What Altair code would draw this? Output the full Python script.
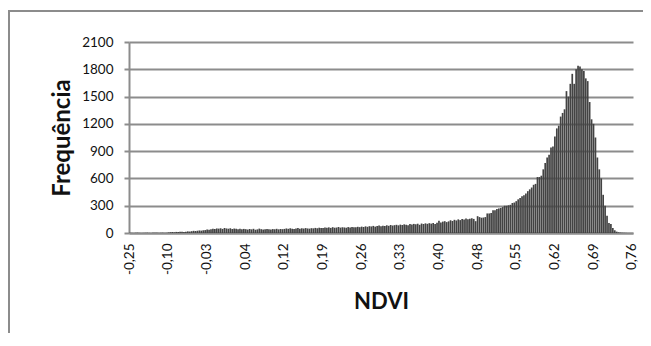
import altair as alt
import pandas as pd

# Frequency per NDVI bin (261 bins)
freq_a = [2,1,0,2,3,1,0,1,2,3,1,0,2,3,2,1,2,3,1,2]
freq_b = [6,9,11,8,12,10,14,13,12,15,18,16,20,24,22,25,28,26,30,32]
freq_c = [38,36,42,46,44,50,48,52,45,55,50,47,52,44,49,46,42,48,40,45]
freq_d = [42,38,44,40,46,36,40,48,42,38,41,45,40,39,43,41,46,40,44,42]
freq_e = [45,50,46,52,48,44,50,55,47,52,49,54,50,48,53,51,56,52,58,54]
freq_f = [55,60,57,62,56,64,58,60,66,59,63,61,58,65,60,67,63,62,68,64]
freq_g = [70,66,73,68,75,72,78,70,76,82,74,80,77,85,79,88,82,86,90,84]
freq_h = [92,88,95,90,86,98,93,100,96,102,90,104,99,106,101,108,103,110,100,112]
freq_i = [135,115,125,130,120,128,140,132,145,138,150,142,155,148,160,152,158,162,155,130]
freq_j = [185,175,168,170,175,215,215,220,250,250,265,270,275,285,300,300,305,310,330,335]
freq_k = [350,370,385,405,415,435,460,480,500,530,540,615,615,630,700,770,830,860,940,950]
freq_l = [1060,1150,1180,1280,1320,1360,1560,1500,1640,1750,1640,1800,1840,1830,1800,1780,1700,1670,1440,1250]
freq_m = [1200,1050,830,700,600,420,300,190,110,100,55,30,15,8,5,3,2,1,0,0]
freq_n = [0]

freq = freq_a + freq_b + freq_c + freq_d + freq_e + freq_f + freq_g + freq_h + freq_i + freq_j + freq_k + freq_l + freq_m + freq_n

# Category labels shown on the x axis (every 20th bin)
tick_labels = ["-0,25", "-0,10", "-0,03", "0,04", "0,12", "0,19", "0,26",
               "0,33", "0,40", "0,48", "0,55", "0,62", "0,69", "0,76"]
label_step = 20
y_ticks = [0, 300, 600, 900, 1200, 1500, 1800, 2100]

df = pd.DataFrame({"bin": list(range(len(freq))), "freq": freq})

label_js = "[" + ",".join("'" + s + "'" for s in tick_labels) + "]"
tick_bins = [i * label_step for i in range(len(tick_labels))]

FONT = "Lato"
GRID = "#8c8c8c"

bars = alt.Chart(df).mark_bar(color="#434343").encode(
    x=alt.X("bin:O",
            scale=alt.Scale(paddingInner=0.12, paddingOuter=0),
            axis=alt.Axis(values=tick_bins,
                          labelExpr=label_js + "[round(datum.value/" + str(label_step) + ")]",
                          labelAngle=270, labelFont=FONT, labelFontSize=13.5,
                          labelColor="#111", labelPadding=10, ticks=False,
                          domainColor=GRID, domainWidth=2,
                          title="NDVI", titleFont=FONT, titleFontSize=22,
                          titleFontWeight="bold", titleColor="#111",
                          titleX=252, titleY=75, titleAlign="center",
                          titleBaseline="alphabetic")),
    y=alt.Y("freq:Q",
            scale=alt.Scale(domain=[0, 2100], nice=False),
            axis=alt.Axis(values=y_ticks, format="d", grid=True, gridColor=GRID, gridWidth=2,
                          domainColor=GRID, domainWidth=2, tickColor=GRID,
                          tickSize=5, tickWidth=2, labelFont=FONT, labelFontSize=13.5,
                          labelColor="#111", labelPadding=11,
                          title="Frequência", titleFont=FONT, titleFontSize=24,
                          titleFontWeight="bold", titleColor="#111",
                          titleX=-67, titleY=95.5, titleAngle=270,
                          titleAlign="center", titleBaseline="middle")),
)

frame_df = pd.DataFrame({"k": [0]})
left_border = alt.Chart(frame_df).mark_rule(color="#8c8c8c", strokeWidth=2).encode(
    x=alt.value(-120), y=alt.value(-31), y2=alt.value(400))
top_border = alt.Chart(frame_df).mark_rule(color="#8c8c8c", strokeWidth=2).encode(
    x=alt.value(-121), x2=alt.value(700), y=alt.value(-31))

chart = alt.layer(bars, left_border, top_border).properties(
    width=504, height=191,
    autosize=alt.AutoSizeParams(type="none"),
    padding={"left": 121, "top": 34, "right": 10, "bottom": 100},
).configure_view(stroke="transparent")

chart.save("out.html", embed_options={"renderer": "svg", "actions": False})
